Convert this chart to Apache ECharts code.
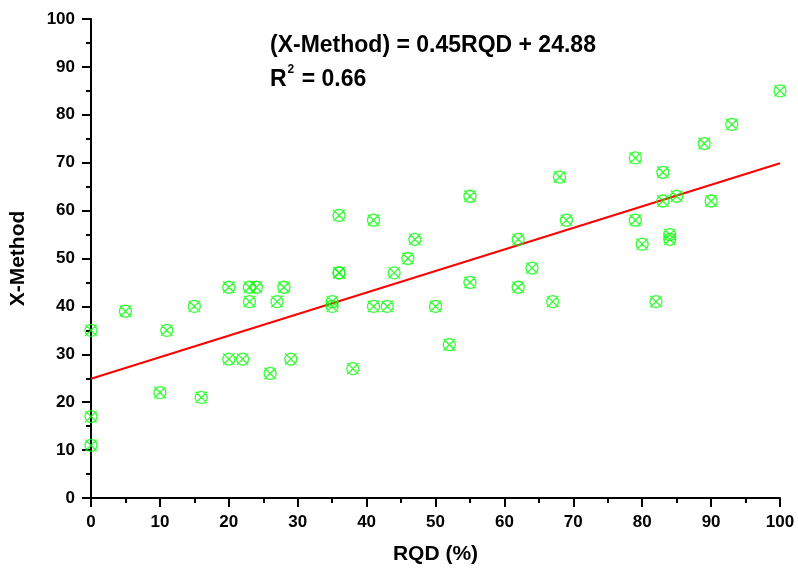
<!DOCTYPE html>
<html>
<head>
<meta charset="utf-8">
<script src="https://cdn.jsdelivr.net/npm/echarts@6/dist/echarts.min.js"></script>
<style>
html,body{margin:0;padding:0;background:#fff;}
#chart{width:798px;height:573px;}
</style>
</head>
<body>
<div id="chart"></div>
<script>
const rqd = [0,0,0,5,10,11,15,16,20,20,22,23,23,24,26,27,28,29,35,35,36,36,36,38,41,41,43,44,46,47,50,52,55,55,62,62,64,67,68,69,79,79,80,82,83,83,84,84,85,89,90,93,100];
const xMethod = [35,17,11,39,22,35,40,21,44,29,29,44,41,44,26,41,44,29,41,40,59,47,47,27,58,40,40,47,50,54,40,32,63,45,54,44,48,41,67,58,71,58,53,41,68,62,55,54,63,74,62,78,85];
const fitX = [0, 100];
const fitY = [24.88, 69.88];
const xTicks = [0,10,20,30,40,50,60,70,80,90,100];
const yTicks = [0,10,20,30,40,50,60,70,80,90,100];
const equationText = '(X-Method) = 0.45RQD + 24.88';
const r2Text = '0.66';

const chart = echarts.init(document.getElementById('chart'), null, {renderer:'canvas'});
const font = 'Liberation Sans, Arial, sans-serif';
const marker = 'path://M0,0L20,20M20,0L0,20M20.5,10A10.5,10.5 0 1 1 -0.5,10A10.5,10.5 0 1 1 20.5,10Z';

const axisCommon = {
  min: 0, max: 100, interval: 10,
  axisLine: {show:true, onZero:false, lineStyle:{color:'#000', width:2}},
  axisTick: {show:true, inside:false, length:9, lineStyle:{color:'#000', width:2}},
  minorTick: {show:true, splitNumber:2, length:5, lineStyle:{color:'#000', width:2}},
  splitLine: {show:false},
  axisLabel: {color:'#000', fontSize:17, fontWeight:'bold', fontFamily:font, margin:16},
  nameTextStyle: {color:'#000', fontSize:21, fontWeight:'bold', fontFamily:font}
};

chart.setOption({
  animation: false,
  backgroundColor: '#fff',
  grid: {left:90, right:18, top:19, bottom:75, containLabel:false},
  xAxis: Object.assign({}, axisCommon, {
    type:'value', name:'RQD (%)', nameLocation:'middle', nameGap:46,
    axisLabel: Object.assign({}, axisCommon.axisLabel, {formatter: v => xTicks.includes(v) ? String(v) : ''})
  }),
  yAxis: Object.assign({}, axisCommon, {
    type:'value', name:'X-Method', nameLocation:'middle', nameGap:62,
    axisLabel: Object.assign({}, axisCommon.axisLabel, {formatter: v => yTicks.includes(v) ? String(v) : ''})
  }),
  series: [
    {
      type:'line',
      data: fitX.map((x,i)=>[x, fitY[i]]),
      symbol:'none',
      lineStyle:{color:'#ff0000', width:2},
      z:2
    },
    {
      type:'scatter',
      data: rqd.map((x,i)=>[x, xMethod[i]]),
      symbol: marker,
      symbolSize: 12,
      clip: true,
      itemStyle:{color:'transparent', borderColor:'#00ff00', borderWidth:1.3},
      z:3
    }
  ],
  graphic: [
    {
      type:'text', left:270, top:34,
      style:{text:equationText, fontSize:23, fontWeight:'bold', fontFamily:font, fill:'#000'}
    },
    {
      type:'text', left:270, top:64,
      style:{
        text:'{a|R}{s|2}{a| = ' + r2Text + '}',
        rich:{
          a:{fontSize:23, fontWeight:'bold', fontFamily:font, fill:'#000', verticalAlign:'bottom', lineHeight:27},
          s:{fontSize:12, fontWeight:'bold', fontFamily:font, fill:'#000', verticalAlign:'top', lineHeight:27, padding:[0,1,13,1]}
        }
      }
    }
  ]
});
</script>
</body>
</html>
